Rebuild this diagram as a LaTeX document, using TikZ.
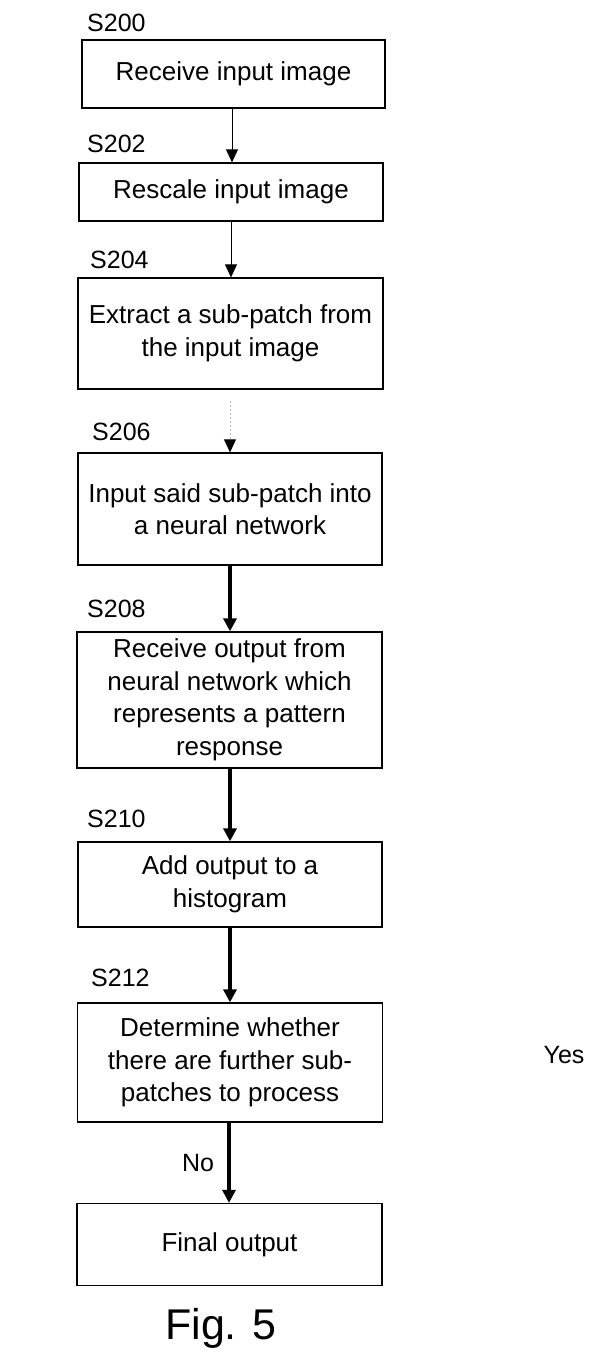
\documentclass[tikz,border=0pt]{standalone}
\usepackage{fontspec}
\setmainfont{Liberation Sans}
\usetikzlibrary{arrows.meta}
\begin{document}
\begin{tikzpicture}[x=1pt,y=-1pt,
  box/.style={draw=black,line width=1.3pt,rectangle,inner sep=0pt,align=center,
    font=\fontsize{26}{32.5}\selectfont},
  lbl/.style={anchor=base west,inner sep=0pt,font=\fontsize{25}{28}\selectfont},
  thin/.style={line width=0.8pt,-{Triangle[length=13pt,width=12pt]}},
  faint/.style={line width=0.8pt,draw=gray!55,dash pattern=on 2pt off 2pt,-{Triangle[length=13pt,width=12pt,color=black]}},
  thick/.style={line width=3.2pt,-{Triangle[length=13pt,width=13pt]}}]
\useasboundingbox (0,0) rectangle (614,1370);
\node[box,minimum width=303pt,minimum height=68pt] (b1) at (233.5,74) {Receive input image};
\node[box,minimum width=304pt,minimum height=58pt] (b2) at (231,192) {Rescale input image};
\node[box,minimum width=305pt,minimum height=111pt] (b3) at (230.5,333.5) {Extract a sub-patch from\\the input image};
\node[box,minimum width=304pt,minimum height=112pt] (b4) at (230,509) {Input said sub-patch into\\a neural network};
\node[box,minimum width=305pt,minimum height=136pt] (b5) at (229.5,700) {Receive output from\\neural network which\\represents a pattern\\response};
\node[box,minimum width=304pt,minimum height=85pt] (b6) at (230,884.5) {Add output to a\\histogram};
\node[box,minimum width=305pt,minimum height=119pt] (b7) at (230,1062.5) {Determine whether\\there are further sub-\\patches to process};
\node[box,minimum width=305pt,minimum height=82pt] (b8) at (229.5,1244.5) {Final output};

\node[lbl] (l200) at (87,32) {S200};
\node[lbl] (l202) at (87,153) {S202};
\node[lbl] (l204) at (90,268) {S204};
\node[lbl] (l206) at (92,440) {S206};
\node[lbl] (l208) at (87,617) {S208};
\node[lbl] (l210) at (87,827) {S210};
\node[lbl] (l212) at (91,986) {S212};

\node[font=\fontsize{25}{28}\selectfont,inner sep=0pt] (no) at (198,1163) {No};
\node[font=\fontsize{25}{28}\selectfont,inner sep=0pt] (yes) at (564,1055) {Yes};
\node[font=\fontsize{43}{50}\selectfont,inner sep=0pt] (fig) at (221,1328) {Fig. 5};

\coordinate (c3) at (230,401);
\draw[thin] (b1.south -| 232,0) -- (b2.north -| 232,0);
\draw[thin] (b2.south -| 231,0) -- (b3.north -| 231,0);
\draw[faint] (c3) -- (b4.north -| 230,0);
\draw[thick] (b4.south -| 230,0) -- (b5.north -| 230,0);
\draw[thick] (b5.south -| 230,0) -- (b6.north -| 230,0);
\draw[thick] (b6.south -| 230,0) -- (b7.north -| 230,0);
\draw[thick] (b7.south -| 229,0) -- (b8.north -| 229,0);
\end{tikzpicture}
\end{document}
